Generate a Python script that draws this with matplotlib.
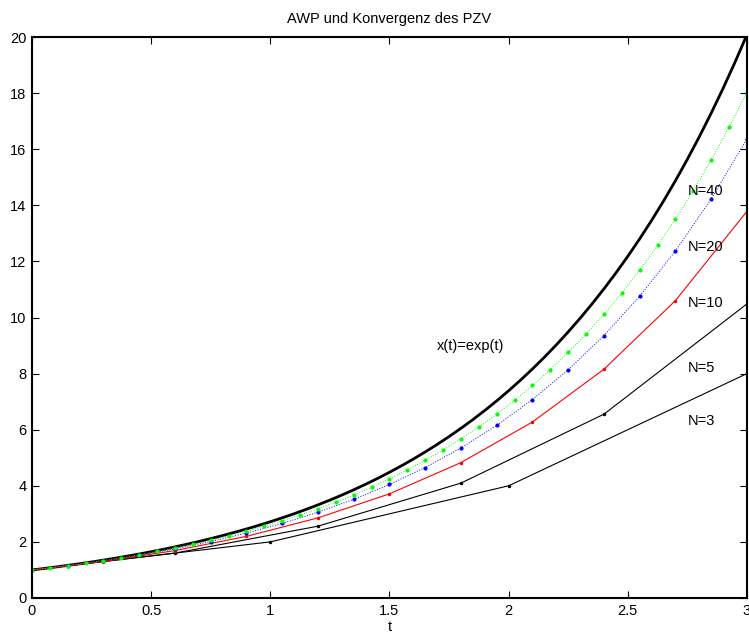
#!/usr/bin/env python3
"""
Euler method convergence plot: AWP und Konvergenz des PZV.
"""

import matplotlib.pyplot as plt

plt.rcParams['font.family'] = ['Liberation Sans', 'DejaVu Sans']

# exact solution x(t) = exp(t), read at t = 0, 0.05, ..., 3
t_exact = [0.0, 0.05, 0.1, 0.15, 0.2, 0.25, 0.3, 0.35, 0.4, 0.45, 0.5,
           0.55, 0.6, 0.65, 0.7, 0.75, 0.8, 0.85, 0.9, 0.95, 1.0,
           1.05, 1.1, 1.15, 1.2, 1.25, 1.3, 1.35, 1.4, 1.45, 1.5,
           1.55, 1.6, 1.65, 1.7, 1.75, 1.8, 1.85, 1.9, 1.95, 2.0,
           2.05, 2.1, 2.15, 2.2, 2.25, 2.3, 2.35, 2.4, 2.45, 2.5,
           2.55, 2.6, 2.65, 2.7, 2.75, 2.8, 2.85, 2.9, 2.95, 3.0]
x_exact = [1.000, 1.051, 1.105, 1.162, 1.221, 1.284, 1.350, 1.419, 1.492, 1.568, 1.649,
           1.733, 1.822, 1.916, 2.014, 2.117, 2.226, 2.340, 2.460, 2.586, 2.718,
           2.858, 3.004, 3.158, 3.320, 3.490, 3.669, 3.857, 4.055, 4.263, 4.482,
           4.712, 4.953, 5.207, 5.474, 5.755, 6.050, 6.360, 6.686, 7.029, 7.389,
           7.768, 8.166, 8.585, 9.025, 9.488, 9.974, 10.486, 11.023, 11.588, 12.182,
           12.807, 13.464, 14.154, 14.880, 15.643, 16.445, 17.288, 18.174, 19.106, 20.086]

# N = 3 steps
t_n3 = [0.0, 1.0, 2.0, 3.0]
x_n3 = [1.0, 2.0, 4.0, 8.0]

# N = 5 steps
t_n5 = [0.0, 0.6, 1.2, 1.8, 2.4, 3.0]
x_n5 = [1.0, 1.6, 2.56, 4.096, 6.5536, 10.486]

# N = 10 steps
t_n10 = [0.0, 0.3, 0.6, 0.9, 1.2, 1.5, 1.8, 2.1, 2.4, 2.7, 3.0]
x_n10 = [1.0, 1.3, 1.69, 2.197, 2.856, 3.713, 4.827, 6.275, 8.157, 10.604, 13.786]

# N = 20 steps
t_n20 = [0.0, 0.15, 0.3, 0.45, 0.6, 0.75, 0.9, 1.05, 1.2, 1.35, 1.5,
         1.65, 1.8, 1.95, 2.1, 2.25, 2.4, 2.55, 2.7, 2.85, 3.0]
x_n20 = [1.0, 1.15, 1.3225, 1.521, 1.749, 2.011, 2.313, 2.660, 3.059, 3.518, 4.046,
         4.652, 5.350, 6.153, 7.076, 8.137, 9.358, 10.761, 12.375, 14.232, 16.367]

# N = 40 steps
t_n40 = [0.0, 0.075, 0.15, 0.225, 0.3, 0.375, 0.45, 0.525, 0.6, 0.675, 0.75,
         0.825, 0.9, 0.975, 1.05, 1.125, 1.2, 1.275, 1.35, 1.425, 1.5,
         1.575, 1.65, 1.725, 1.8, 1.875, 1.95, 2.025, 2.1, 2.175, 2.25,
         2.325, 2.4, 2.475, 2.55, 2.625, 2.7, 2.775, 2.85, 2.925, 3.0]
x_n40 = [1.0, 1.075, 1.156, 1.242, 1.335, 1.436, 1.543, 1.659, 1.783, 1.917, 2.061,
         2.216, 2.382, 2.560, 2.752, 2.959, 3.181, 3.419, 3.676, 3.951, 4.248,
         4.566, 4.909, 5.277, 5.673, 6.098, 6.556, 7.047, 7.576, 8.144, 8.755,
         9.412, 10.117, 10.876, 11.692, 12.569, 13.512, 14.525, 15.614, 16.785, 18.044]

labels = ['N=40', 'N=20', 'N=10', 'N=5', 'N=3']
label_y = [14.5, 12.5, 10.5, 8.2, 6.3]


def main():
    fig = plt.figure(figsize=(7.49, 6.35), dpi=100)
    ax = fig.add_axes([0.0427, 0.0583, 0.9546, 0.8834])

    ax.plot(t_exact, x_exact, color='black', linewidth=2, solid_joinstyle='round')
    ax.plot(t_n3, x_n3, color='black', linewidth=0.8, marker='.', markersize=3)
    ax.plot(t_n5, x_n5, color='black', linewidth=0.8, marker='.', markersize=3)
    ax.plot(t_n10, x_n10, color='red', linewidth=0.8, marker='.', markersize=3)
    ax.plot(t_n20, x_n20, color='blue', linewidth=0.7, linestyle=':', marker='.', markersize=4)
    ax.plot(t_n40, x_n40, color='#00ff00', linewidth=0.7, linestyle=':', marker='.', markersize=4)

    ax.text(1.7, 9.0, 'x(t)=exp(t)', fontsize=10.5, va='center', ha='left')
    for lab, y in zip(labels, label_y):
        ax.text(2.75, y, lab, fontsize=10.5, va='center', ha='left')

    ax.set_xlim(0, 3)
    ax.set_ylim(0, 20)
    ax.set_xticks([0, 0.5, 1, 1.5, 2, 2.5, 3])
    ax.set_xticklabels(['0', '0.5', '1', '1.5', '2', '2.5', '3'])
    ax.set_yticks(range(0, 21, 2))
    ax.tick_params(direction='in', top=True, right=True, length=5, width=0.8,
                   labelsize=10.5, pad=4)
    for spine in ax.spines.values():
        spine.set_linewidth(1.5)

    ax.set_xlabel('t', fontsize=10.5, labelpad=2)
    ax.set_title('AWP und Konvergenz des PZV', fontsize=10.5, pad=10)

    fig.savefig('out.png', dpi=100)


if __name__ == "__main__":
    main()
